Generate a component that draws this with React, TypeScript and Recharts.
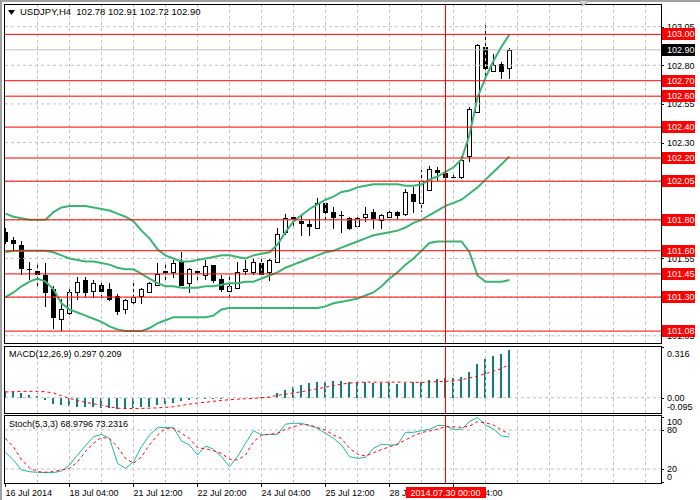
import React from 'react';
import { ComposedChart, Bar, Line, XAxis, YAxis, ReferenceLine } from 'recharts';

const opens = [101.72, 101.67, 101.64, 101.48, 101.47, 101.44, 101.35, 101.16, 101.20, 101.33, 101.41, 101.34, 101.38, 101.35, 101.31, 101.22, 101.27, 101.31, 101.33, 101.38, 101.46, 101.46, 101.53, 101.39, 101.47, 101.44, 101.51, 101.42, 101.34, 101.36, 101.47, 101.46, 101.52, 101.46, 101.53, 101.72, 101.81, 101.79, 101.77, 101.75, 101.91, 101.85, 101.83, 101.81, 101.76, 101.82, 101.85, 101.80, 101.82, 101.85, 101.84, 101.97, 101.91, 101.99, 102.12, 102.10, 102.08, 102.08, 102.21, 102.50, 102.92, 102.76, 102.81, 102.78];
const highs = [101.75, 101.69, 101.66, 101.53, 101.52, 101.52, 101.37, 101.29, 101.37, 101.43, 101.43, 101.41, 101.39, 101.39, 101.32, 101.29, 101.39, 101.36, 101.40, 101.52, 101.52, 101.54, 101.59, 101.49, 101.49, 101.54, 101.51, 101.44, 101.44, 101.53, 101.54, 101.55, 101.56, 101.55, 101.75, 101.84, 101.83, 101.83, 101.80, 101.94, 101.91, 101.88, 101.86, 101.82, 101.83, 101.88, 101.87, 101.84, 101.87, 101.86, 102.00, 102.01, 102.12, 102.15, 102.14, 102.12, 102.10, 102.21, 102.53, 102.94, 103.07, 102.87, 102.82, 102.91];
const lows = [101.65, 101.60, 101.45, 101.42, 101.37, 101.24, 101.10, 101.09, 101.19, 101.29, 101.30, 101.30, 101.30, 101.28, 101.19, 101.20, 101.26, 101.26, 101.33, 101.38, 101.42, 101.43, 101.38, 101.33, 101.42, 101.42, 101.40, 101.34, 101.31, 101.36, 101.45, 101.45, 101.44, 101.41, 101.53, 101.71, 101.75, 101.70, 101.70, 101.75, 101.79, 101.75, 101.72, 101.74, 101.75, 101.79, 101.75, 101.75, 101.82, 101.81, 101.83, 101.85, 101.86, 101.99, 102.06, 102.07, 102.05, 102.07, 102.18, 102.50, 102.72, 102.76, 102.72, 102.72];
const closes = [101.66, 101.65, 101.49, 101.48, 101.45, 101.33, 101.17, 101.22, 101.33, 101.40, 101.33, 101.39, 101.34, 101.29, 101.21, 101.28, 101.30, 101.35, 101.39, 101.45, 101.47, 101.52, 101.38, 101.48, 101.46, 101.50, 101.41, 101.35, 101.37, 101.46, 101.48, 101.53, 101.45, 101.54, 101.71, 101.81, 101.82, 101.78, 101.76, 101.91, 101.85, 101.82, 101.83, 101.75, 101.81, 101.84, 101.81, 101.83, 101.85, 101.83, 101.98, 101.92, 102.05, 102.13, 102.11, 102.08, 102.075, 102.19, 102.52, 102.93, 102.78, 102.80, 102.76, 102.90];

const bbUpper = [101.84, 101.82, 101.81, 101.80, 101.80, 101.80, 101.85, 101.88, 101.89, 101.89, 101.89, 101.88, 101.87, 101.86, 101.84, 101.82, 101.79, 101.73, 101.68, 101.61, 101.57, 101.55, 101.53, 101.53, 101.54, 101.55, 101.56, 101.57, 101.57, 101.56, 101.55, 101.57, 101.58, 101.59, 101.64, 101.72, 101.79, 101.83, 101.87, 101.90, 101.93, 101.95, 101.98, 101.99, 102.01, 102.02, 102.03, 102.03, 102.03, 102.03, 102.02, 102.02, 102.03, 102.06, 102.08, 102.11, 102.14, 102.19, 102.35, 102.59, 102.72, 102.83, 102.92, 103.00];
const bbMiddle = [101.59, 101.60, 101.60, 101.60, 101.60, 101.60, 101.59, 101.57, 101.55, 101.54, 101.53, 101.53, 101.52, 101.51, 101.49, 101.48, 101.48, 101.45, 101.42, 101.39, 101.37, 101.37, 101.36, 101.36, 101.36, 101.37, 101.37, 101.38, 101.39, 101.39, 101.40, 101.40, 101.42, 101.44, 101.46, 101.49, 101.51, 101.53, 101.55, 101.57, 101.59, 101.60, 101.62, 101.64, 101.66, 101.68, 101.70, 101.71, 101.72, 101.73, 101.75, 101.78, 101.80, 101.83, 101.86, 101.89, 101.91, 101.93, 101.97, 102.01, 102.06, 102.11, 102.16, 102.21];
const bbLower = [101.30, 101.33, 101.37, 101.40, 101.42, 101.40, 101.35, 101.26, 101.22, 101.20, 101.18, 101.16, 101.14, 101.11, 101.09, 101.08, 101.08, 101.08, 101.10, 101.13, 101.15, 101.17, 101.17, 101.17, 101.17, 101.17, 101.18, 101.22, 101.23, 101.23, 101.23, 101.23, 101.23, 101.23, 101.23, 101.23, 101.23, 101.23, 101.23, 101.23, 101.24, 101.26, 101.27, 101.28, 101.29, 101.31, 101.33, 101.37, 101.42, 101.46, 101.51, 101.55, 101.60, 101.65, 101.66, 101.66, 101.66, 101.66, 101.59, 101.44, 101.40, 101.40, 101.40, 101.41];

const macdHist = [0.04, 0.035, 0.03, 0.015, 0.008, -0.015, -0.04, -0.046, -0.052, -0.056, -0.056, -0.06, -0.064, -0.064, -0.067, -0.067, -0.065, -0.06, -0.056, -0.046, -0.036, -0.03, -0.022, -0.015, -0.01, -0.008, -0.006, -0.005, -0.003, -0.002, 0.0, 0.001, 0.002, 0.005, 0.03, 0.05, 0.07, 0.077, 0.09, 0.097, 0.097, 0.107, 0.107, 0.095, 0.098, 0.098, 0.091, 0.091, 0.095, 0.083, 0.091, 0.098, 0.098, 0.113, 0.117, 0.12, 0.121, 0.131, 0.162, 0.213, 0.24, 0.26, 0.273, 0.297];
const macdSignal = [0.036, 0.038, 0.04, 0.04, 0.04, 0.037, 0.03, 0.013, -0.004, -0.018, -0.028, -0.038, -0.047, -0.056, -0.065, -0.067, -0.067, -0.066, -0.065, -0.063, -0.06, -0.056, -0.048, -0.04, -0.033, -0.028, -0.022, -0.017, -0.012, -0.009, -0.006, -0.004, 0.0, 0.005, 0.015, 0.022, 0.03, 0.037, 0.047, 0.056, 0.066, 0.076, 0.085, 0.091, 0.095, 0.097, 0.097, 0.097, 0.097, 0.097, 0.097, 0.096, 0.095, 0.098, 0.1, 0.102, 0.106, 0.112, 0.124, 0.134, 0.15, 0.165, 0.182, 0.209];

const stochMain = [45.6, 33.8, 18.5, 15.9, 14.9, 14.4, 14.4, 17, 26, 41.5, 55.9, 69.7, 73.3, 67.2, 28.7, 21, 31.3, 54.4, 72.3, 83.6, 83.8, 83.6, 63, 57, 41.5, 55.4, 50.3, 39, 23.6, 39, 59.5, 79, 72.3, 73.3, 73.3, 89, 90.3, 90.3, 86.7, 82.6, 75, 67.2, 57, 39, 36.4, 37.9, 51.8, 58, 57, 57, 76.4, 76.4, 79, 81, 86.7, 86.7, 81, 81, 92.8, 99.5, 87.7, 81.5, 70.8, 68.98];
const stochSignal = [67, 54, 34, 22, 16, 15, 16, 18.5, 21, 31, 47, 59.5, 68.7, 67, 54, 36.4, 28.7, 39, 57, 72, 82.5, 82.5, 75, 67, 52.8, 51, 48, 44, 35, 34, 41.5, 62, 72, 73.3, 75, 81, 85, 88.7, 87.7, 83.6, 80, 72, 67, 51.8, 43, 40, 45, 50, 54, 58.5, 64.6, 71, 76, 78.5, 81.5, 85, 85, 84, 86, 92.8, 91, 87.7, 80, 73.23];

const timeTickIndex = [0, 8, 16, 24, 32, 40, 48, 56];
const timeTickLabels = ['16 Jul 2014', '18 Jul 04:00', '21 Jul 12:00', '22 Jul 20:00', '24 Jul 04:00', '25 Jul 12:00', '28 Jul 20:00', '30 Jul 04:00'];
const gridXIndex = [4, 8, 12, 16, 20, 24, 28, 32, 36, 40, 44, 48, 52, 56, 60, 64, 68, 72, 76, 80];
const markerIndex = 55;
const markerLabel = '2014.07.30 00:00';

const priceTicks = [101.05, 101.30, 101.55, 101.80, 102.05, 102.30, 102.55, 102.80, 103.05];
const levels = [103.00, 102.70, 102.60, 102.40, 102.20, 102.05, 101.80, 101.60, 101.45, 101.30, 101.08];
const lastPrice = 102.90;
const macdTicks = [0.316, 0.0, -0.095];
const macdTickLabels = ['0.316', '0.00', '-0.095'];
const stochTicks = [100, 80, 20, 0];
const stochGrid = [80, 20];

const symbolText = 'USDJPY,H4  102.78 102.91 102.72 102.90';
const macdText = 'MACD(12,26,9) 0.297 0.209';
const stochText = 'Stoch(5,3,3) 68.9796 73.2316';

const TFONT = "'Liberation Sans', Arial, sans-serif";
const GRID = '#c0c0c0';
const RED = '#ff0000';
const GREEN = '#3cb371';

const W = 700;
const MARGIN = { left: 5, right: 39 };
const X_DOMAIN: [number, number] = [-0.0625, 81.9375];

const MAIN_TOP = 5, MAIN_BOTTOM = 343;
const MACD_TOP = 347, MACD_BOTTOM = 413;
const ST_TOP = 416, ST_BOTTOM = 483;

const data = opens.map((o, i) => ({
  i,
  o,
  h: highs[i],
  l: lows[i],
  c: closes[i],
  up: bbUpper[i],
  mid: bbMiddle[i],
  lo: bbLower[i],
  hist: macdHist[i],
  sig: macdSignal[i],
  k: stochMain[i],
  d: stochSignal[i],
}));

const Candle = (props: any) => {
  const { x, y, width, height, payload } = props;
  if (!payload) return null;
  const { o, h, l, c } = payload;
  const X = Math.floor(x + width / 2);
  const ratio = h - l > 0 ? height / (h - l) : 0;
  const top = y + (h - Math.max(o, c)) * ratio;
  const bot = y + (h - Math.min(o, c)) * ratio;
  const bt = Math.round(top);
  const bb = Math.round(bot);
  const bull = c >= o;
  return (
    <g shapeRendering="crispEdges">
      <line x1={X + 0.5} x2={X + 0.5} y1={Math.round(y)} y2={Math.round(y + height) + 1} stroke="#000" strokeWidth={1} />
      {bb - bt >= 1 ? (
        <rect x={X - 1.5} y={bt + 0.5} width={4} height={bb - bt} fill={bull ? '#fff' : '#000'} stroke="#000" strokeWidth={1} />
      ) : (
        <line x1={X - 2} x2={X + 3} y1={bt + 0.5} y2={bt + 0.5} stroke="#000" strokeWidth={1} />
      )}
    </g>
  );
};

const MacdBar = (props: any) => {
  const { x, y, width, height } = props;
  if (height === undefined || width === undefined) return null;
  const X = Math.floor(x + width / 2);
  const y0 = Math.round(Math.min(y, y + height));
  const y1 = Math.round(Math.max(y, y + height));
  if (y1 - y0 < 1) return null;
  return <rect x={X - 1} y={y0} width={2} height={y1 - y0} fill="#137d79" shapeRendering="crispEdges" />;
};

const redVLine = (p: any) => {
  const X = Math.floor(p.x1) + 0.5;
  return <line x1={X} x2={X} y1={p.y1} y2={p.y2} stroke={RED} strokeWidth={1} shapeRendering="crispEdges" />;
};

const axisLabel = (text: string, top: number, bottom: number) => (props: any) => {
  const vb = props.viewBox || {};
  const x = (vb.x || 0) + (vb.width || 0);
  const y = vb.y || 0;
  const ty = Math.min(Math.max(y, top + 7), bottom - 6);
  const ry = Math.round(y) + 0.5;
  return (
    <g>
      <line x1={x} x2={x + 3} y1={ry} y2={ry} stroke="#000" strokeWidth={1} shapeRendering="crispEdges" />
      <text x={x + 6} y={ty} dy={3.3} fontSize={9} fontFamily={TFONT} fill="#000">{text}</text>
    </g>
  );
};

const boxLabel = (text: string, bg: string) => (props: any) => {
  const vb = props.viewBox || {};
  const x = (vb.x || 0) + (vb.width || 0) + 1;
  const y = Math.round(vb.y || 0);
  return (
    <g>
      <rect x={x} y={y - 6} width={33} height={12} fill={bg} shapeRendering="crispEdges" />
      <text x={x + 5} y={y} dy={3.3} fontSize={9} fontFamily={TFONT} fill="#fff">{text}</text>
    </g>
  );
};

const timeLabel = (text: string) => (props: any) => {
  const vb = props.viewBox || {};
  const x = Math.floor(vb.x || 0) + 0.5;
  const yb = (vb.y || 0) + (vb.height || 0);
  return (
    <g>
      <line x1={x} x2={x} y1={yb} y2={yb + 4} stroke="#000" strokeWidth={1} shapeRendering="crispEdges" />
      <text x={x} y={yb + 13} fontSize={9} fontFamily={TFONT} fill="#000">{text}</text>
    </g>
  );
};

const markerTimeLabel = (text: string) => (props: any) => {
  const vb = props.viewBox || {};
  const x = Math.floor(vb.x || 0) + 0.5;
  const yb = (vb.y || 0) + (vb.height || 0);
  return (
    <g>
      <rect x={x - 40} y={yb + 4} width={80} height={11} fill={RED} shapeRendering="crispEdges" />
      <text x={x} y={yb + 13} textAnchor="middle" fontSize={9} fontFamily={TFONT} fill="#fff">{text}</text>
    </g>
  );
};

const vGrid = () =>
  gridXIndex.map((k) => (
    <ReferenceLine key={'vg' + k} x={k} stroke={GRID} strokeWidth={1} strokeDasharray="3 3" shapeRendering="crispEdges" />
  ));

const Frame = ({ top, bottom }: { top: number; bottom: number }) => (
  <div
    style={{
      position: 'absolute',
      left: 4,
      top,
      width: 661 - 4 - 1,
      height: bottom - top - 1,
      border: '1px solid #000',
      pointerEvents: 'none',
    }}
  />
);

export default function App() {
  return (
    <div style={{ position: 'absolute', left: 0, top: 0, width: W, height: 500, background: '#fff', overflow: 'hidden', fontFamily: TFONT }}>
      <div style={{ position: 'absolute', left: 0, top: 0 }}>
        <ComposedChart width={W} height={MAIN_BOTTOM + 1} data={data} margin={{ top: MAIN_TOP, bottom: 1, left: MARGIN.left, right: MARGIN.right }}>
          <XAxis type="number" dataKey="i" domain={X_DOMAIN} hide allowDataOverflow />
          <YAxis type="number" domain={[101.003, 103.19]} hide allowDataOverflow />
          {vGrid()}
          {priceTicks.map((t) => (
            <ReferenceLine key={'pt' + t} y={t} stroke={GRID} strokeDasharray="3 3" label={axisLabel(t.toFixed(2), MAIN_TOP, MAIN_BOTTOM)} />
          ))}
          <ReferenceLine y={lastPrice} stroke={GRID} strokeWidth={1} label={boxLabel(lastPrice.toFixed(2), '#000')} />
          <Bar dataKey={(d: any) => [d.l, d.h]} barSize={5} shape={Candle} isAnimationActive={false} />
          <Line type="linear" dataKey="up" stroke={GREEN} strokeWidth={2} dot={false} activeDot={false} isAnimationActive={false} />
          <Line type="linear" dataKey="mid" stroke={GREEN} strokeWidth={2} dot={false} activeDot={false} isAnimationActive={false} />
          <Line type="linear" dataKey="lo" stroke={GREEN} strokeWidth={2} dot={false} activeDot={false} isAnimationActive={false} />
          {levels.map((lv) => (
            <ReferenceLine key={'lv' + lv} y={lv} stroke={RED} strokeWidth={1} label={boxLabel(lv.toFixed(2), RED)} />
          ))}
          <ReferenceLine x={markerIndex} stroke={RED} shape={redVLine} />
        </ComposedChart>
      </div>

      <div style={{ position: 'absolute', left: 0, top: MACD_TOP }}>
        <ComposedChart width={W} height={MACD_BOTTOM - MACD_TOP} data={data} margin={{ top: 0, bottom: 0, left: MARGIN.left, right: MARGIN.right }}>
          <XAxis type="number" dataKey="i" domain={X_DOMAIN} hide allowDataOverflow />
          <YAxis type="number" domain={[-0.095, 0.316]} hide allowDataOverflow />
          {vGrid()}
          {macdTicks.map((t, j) => (
            <ReferenceLine key={'mt' + j} y={t} stroke={t === 0 ? GRID : 'none'} strokeDasharray="3 3" label={axisLabel(macdTickLabels[j], 0, MACD_BOTTOM - MACD_TOP)} />
          ))}
          <Bar dataKey="hist" barSize={2} shape={MacdBar} isAnimationActive={false} />
          <Line type="linear" dataKey="sig" stroke={RED} strokeWidth={1} strokeDasharray="3 3" dot={false} activeDot={false} isAnimationActive={false} />
          <ReferenceLine x={markerIndex} stroke={RED} shape={redVLine} />
        </ComposedChart>
      </div>

      <div style={{ position: 'absolute', left: 0, top: ST_TOP }}>
        <ComposedChart width={W} height={500 - ST_TOP} data={data} margin={{ top: 0, bottom: 500 - ST_BOTTOM, left: MARGIN.left, right: MARGIN.right }}>
          <XAxis type="number" dataKey="i" domain={X_DOMAIN} hide allowDataOverflow />
          <YAxis type="number" domain={[-1.5, 101.5]} hide allowDataOverflow />
          {vGrid()}
          {stochGrid.map((t) => (
            <ReferenceLine key={'sg' + t} y={t} stroke={GRID} strokeDasharray="3 3" />
          ))}
          {stochTicks.map((t) => (
            <ReferenceLine key={'st' + t} y={t} stroke="none" label={axisLabel(String(t), -1, ST_BOTTOM - ST_TOP)} />
          ))}
          <Line type="linear" dataKey="k" stroke="#20b2aa" strokeWidth={1} dot={false} activeDot={false} isAnimationActive={false} />
          <Line type="linear" dataKey="d" stroke={RED} strokeWidth={1} strokeDasharray="3 3" dot={false} activeDot={false} isAnimationActive={false} />
          {timeTickIndex.map((k, j) => (
            <ReferenceLine key={'tt' + k} x={k} stroke="none" label={timeLabel(timeTickLabels[j])} />
          ))}
          <ReferenceLine x={markerIndex} stroke={RED} shape={redVLine} label={markerTimeLabel(markerLabel)} />
        </ComposedChart>
      </div>

      <Frame top={4} bottom={343} />
      <Frame top={346} bottom={413} />
      <Frame top={415} bottom={483} />

      <div style={{ position: 'absolute', left: 0, top: 0, width: W, height: 2, background: '#a0a0a0' }} />
      <div style={{ position: 'absolute', left: 0, top: 0, width: 2, height: 500, background: '#a0a0a0' }} />

      <svg style={{ position: 'absolute', left: 8, top: 10 }} width={8} height={6}>
        <polygon points="0,0 7,0 3.5,5" fill="#000" />
      </svg>
      <svg style={{ position: 'absolute', left: 578, top: 0 }} width={12} height={8}>
        <polygon points="0.5,0.5 10.5,0.5 5.5,6" fill="#d4d4d4" stroke="#a0a0a0" />
      </svg>
      <div style={{ position: 'absolute', left: 20, top: 6, fontSize: 9.5, fontFamily: TFONT, color: '#000', whiteSpace: 'pre', lineHeight: '12px' }}>{symbolText}</div>
      <div style={{ position: 'absolute', left: 9, top: 348, fontSize: 9, fontFamily: TFONT, color: '#000', whiteSpace: 'pre', lineHeight: '12px' }}>{macdText}</div>
      <div style={{ position: 'absolute', left: 9, top: 418, fontSize: 9, fontFamily: TFONT, color: '#000', whiteSpace: 'pre', lineHeight: '12px' }}>{stochText}</div>
    </div>
  );
}
